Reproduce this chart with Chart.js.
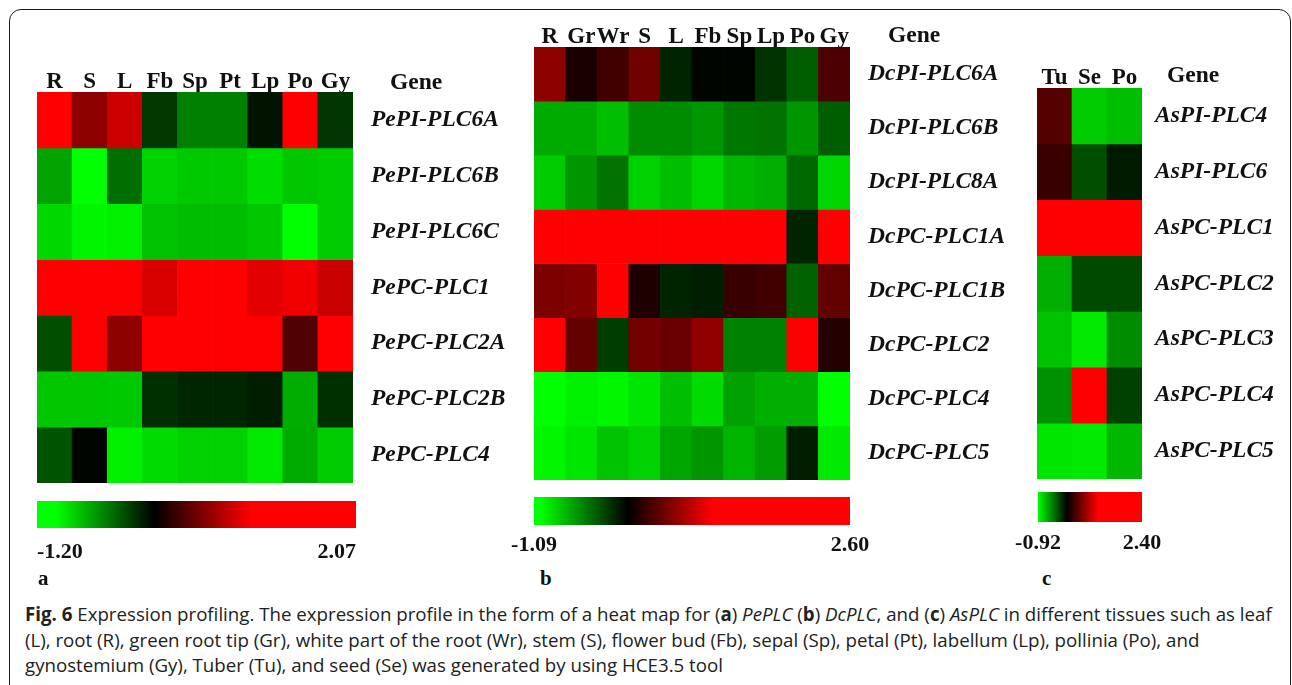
<!DOCTYPE html>
<html>
<head>
<meta charset="utf-8">
<script src="https://cdn.jsdelivr.net/npm/chart.js"></script>
<style>
  body { margin: 0; background: #fff; width: 1292px; height: 685px; overflow: hidden; position: relative; }
  canvas { position: absolute; }
  .frame { position: absolute; left: 9px; top: 9px; width: 1282px; height: 800px; box-sizing: border-box;
           border: 1.6px solid #1b1b1b; border-radius: 12px; }
  .lett { position: absolute; font: bold 21px "Liberation Serif", serif; line-height: 1; color: #111; }
  #caption { position: absolute; left: 25px; top: 601px; font: 18.7px "Open Sans", sans-serif; line-height: 25.5px;
             color: #222; white-space: nowrap; }
</style>
</head>
<body>
<div class="frame"></div>

<canvas id="heatA" width="496" height="431" style="left:37px;top:52px"></canvas>
<canvas id="heatB" width="486" height="473" style="left:534px;top:7px"></canvas>
<canvas id="heatC" width="245" height="431" style="left:1037px;top:48px"></canvas>

<canvas id="barA" width="379" height="67" style="left:7px;top:501px"></canvas>
<canvas id="barB" width="376" height="68" style="left:504px;top:497px"></canvas>
<canvas id="barC" width="164" height="70" style="left:1008px;top:492px"></canvas>

<div class="lett" style="left:38px;top:568px">a</div>
<div class="lett" style="left:540px;top:568px">b</div>
<div class="lett" style="left:1042px;top:568px">c</div>

<div id="caption"><b>Fig. 6</b> Expression profiling. The expression profile in the form of a heat map for (<b>a</b>) <i>PePLC</i> (<b>b</b>) <i>DcPLC</i>, and (<b>c</b>) <i>AsPLC</i> in different tissues such as leaf<br>(L), root (R), green root tip (Gr), white part of the root (Wr), stem (S), flower bud (Fb), sepal (Sp), petal (Pt), labellum (Lp), pollinia (Po), and<br>gynostemium (Gy), Tuber (Tu), and seed (Se) was generated by using HCE3.5 tool</div>

<script>
// panel a - PePLC
const tissuesA = ['R','S','L','Fb','Sp','Pt','Lp','Po','Gy'];
const genesA = ['PePI-PLC6A','PePI-PLC6B','PePI-PLC6C','PePC-PLC1','PePC-PLC2A','PePC-PLC2B','PePC-PLC4'];
const valuesA = [
  [ 1.60,  0.55,  0.80, -0.22, -0.50, -0.50, -0.08,  1.70, -0.21],
  [-0.64, -1.10, -0.43, -0.82, -0.79, -0.79, -0.87, -0.78, -0.80],
  [-0.84, -0.96, -0.94, -0.76, -0.74, -0.74, -0.78, -1.20, -0.80],
  [ 1.80,  1.85,  1.60,  0.85,  1.90,  1.90,  0.89,  0.95,  0.79],
  [-0.31,  1.50,  0.55,  2.07,  2.00,  2.00,  1.90,  0.31,  1.70],
  [-0.78, -0.78, -0.79, -0.19, -0.15, -0.15, -0.12, -0.68, -0.19],
  [-0.33, -0.02, -0.94, -0.86, -0.82, -0.82, -0.92, -0.67, -0.80]
];
const rangeA = [-1.20, 2.07];

// panel b - DcPLC
const tissuesB = ['R','Gr','Wr','S','L','Fb','Sp','Lp','Po','Gy'];
const genesB = ['DcPI-PLC6A','DcPI-PLC6B','DcPI-PLC8A','DcPC-PLC1A','DcPC-PLC1B','DcPC-PLC2','DcPC-PLC4','DcPC-PLC5'];
const valuesB = [
  [ 0.55,  0.10,  0.25,  0.43, -0.14, -0.02, -0.02, -0.20, -0.37,  0.30],
  [-0.67, -0.67, -0.75, -0.55, -0.55, -0.59, -0.47, -0.45, -0.59, -0.37],
  [-0.80, -0.59, -0.45, -0.82, -0.75, -0.84, -0.72, -0.69, -0.41, -0.84],
  [ 2.20,  2.40,  2.60,  2.30,  2.20,  2.10,  2.20,  2.00, -0.14,  1.80],
  [ 0.49,  0.51,  1.40,  0.12, -0.14, -0.12,  0.22,  0.25, -0.39,  0.39],
  [ 1.30,  0.39, -0.24,  0.45,  0.41,  0.57, -0.51, -0.51,  1.20,  0.14],
  [-1.00, -0.95, -0.97, -0.90, -0.75, -0.86, -0.63, -0.69, -0.69, -1.09],
  [-0.97, -0.90, -0.76, -0.82, -0.65, -0.59, -0.71, -0.61, -0.12, -0.92]
];
const rangeB = [-1.09, 2.60];

// panel c - AsPLC
const tissuesC = ['Tu','Se','Po'];
const genesC = ['AsPI-PLC4','AsPI-PLC6','AsPC-PLC1','AsPC-PLC2','AsPC-PLC3','AsPC-PLC4','AsPC-PLC5'];
const valuesC = [
  [ 0.33, -0.80, -0.75],
  [ 0.22, -0.31, -0.10],
  [ 2.40,  2.20,  2.10],
  [-0.69, -0.29, -0.29],
  [-0.76, -0.92, -0.55],
  [-0.57,  1.80, -0.25],
  [-0.90, -0.92, -0.72]
];
const rangeC = [-0.92, 2.40];

const serif = '"Liberation Serif", "Times New Roman", serif';

// green -> black at 0 -> red, saturating at +/-1
function heatColor(v) {
  if (v >= 0) return 'rgb(' + Math.round(255 * Math.min(1, v)) + ',0,0)';
  return 'rgb(0,' + Math.round(255 * Math.min(1, -v)) + ',0)';
}

const geneTitle = {
  id: 'geneTitle',
  afterDraw(chart, args, o) {
    const { ctx, chartArea } = chart;
    ctx.save();
    ctx.font = 'bold 23.5px ' + serif;
    ctx.fillStyle = '#111';
    ctx.textBaseline = 'alphabetic';
    ctx.fillText('Gene', chartArea.right + o.dx, chartArea.top - o.dy);
    ctx.restore();
  }
};

function heatmap(id, tissues, genes, values, o) {
  return new Chart(document.getElementById(id), {
    type: 'bar',
    data: {
      labels: tissues,
      datasets: genes.map((g, i) => ({
        label: g,
        data: tissues.map(() => 1),
        backgroundColor: values[i].map(heatColor),
        borderWidth: 0,
        barPercentage: 1,
        categoryPercentage: 1
      }))
    },
    options: {
      responsive: false,
      animation: false,
      layout: { padding: 0 },
      plugins: { legend: { display: false }, tooltip: { enabled: false }, geneTitle: { dx: o.gx, dy: o.gy } },
      scales: {
        x: {
          position: 'top', stacked: true,
          grid: { display: false }, border: { display: false },
          ticks: { font: { family: serif, size: 23, weight: 'bold' }, color: '#111', padding: o.tp, autoSkip: false, maxRotation: 0 },
          afterFit: s => { s.height = o.top; }
        },
        y: { stacked: true, reverse: true, min: 0, max: genes.length, display: false },
        y2: {
          type: 'category', labels: genes, position: 'right', offset: true,
          grid: { display: false }, border: { display: false },
          ticks: { font: { family: serif, size: 23.5, weight: 'bold', style: 'italic' }, color: '#111', padding: o.gp },
          // labels sit inside the rows, so no extra room above/below the plot
          afterFit: s => { s.width = o.right; s.paddingTop = 0; s.paddingBottom = 0; }
        }
      }
    },
    plugins: [geneTitle]
  });
}

function gradient(chart, range) {
  const a = chart.chartArea;
  if (!a) return '#000';
  const g = chart.ctx.createLinearGradient(a.left, 0, a.right, 0);
  const span = range[1] - range[0];
  const at = v => Math.min(1, Math.max(0, (v - range[0]) / span));
  g.addColorStop(0, 'rgb(0,255,0)');
  g.addColorStop(at(-1), 'rgb(0,255,0)');
  g.addColorStop(at(0), 'rgb(0,0,0)');
  g.addColorStop(at(1), 'rgb(255,0,0)');
  g.addColorStop(1, 'rgb(255,0,0)');
  return g;
}

function colorbar(id, range, o) {
  return new Chart(document.getElementById(id), {
    type: 'bar',
    data: {
      labels: [''],
      datasets: [{
        data: [[range[0], range[1]]],
        backgroundColor: c => gradient(c.chart, range),
        borderWidth: 0,
        barPercentage: 1,
        categoryPercentage: 1
      }]
    },
    options: {
      indexAxis: 'y',
      responsive: false,
      animation: false,
      layout: { padding: { left: 30, right: 30 } },
      plugins: { legend: { display: false }, tooltip: { enabled: false } },
      scales: {
        x: {
          min: range[0], max: range[1],
          grid: { display: false }, border: { display: false },
          afterBuildTicks: s => { s.ticks = [{ value: range[0] }, { value: range[1] }]; },
          ticks: { align: o.align, padding: o.tp, color: '#111',
                   font: { family: serif, size: 22, weight: 'bold' },
                   callback: v => Number(v).toFixed(2) },
          afterFit: s => { s.height = o.h; }
        },
        y: { display: false }
      }
    }
  });
}

heatmap('heatA', tissuesA, genesA, valuesA, { top: 40, right: 180, tp: -12, gp: 10, gx: 37, gy: 3 });
heatmap('heatB', tissuesB, genesB, valuesB, { top: 40, right: 170, tp: -12, gp: 10, gx: 38, gy: 5 });
heatmap('heatC', tissuesC, genesC, valuesC, { top: 40, right: 140, tp: -12, gp: 5, gx: 25, gy: 6 });

colorbar('barA', rangeA, { align: 'inner', tp: 3, h: 40 });
colorbar('barB', rangeB, { align: 'center', tp: -1, h: 40 });
colorbar('barC', rangeC, { align: 'center', tp: 0, h: 40 });
</script>
</body>
</html>
